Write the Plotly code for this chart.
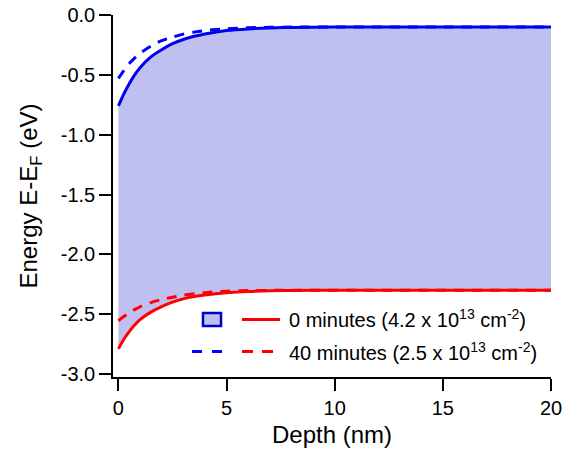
import plotly.graph_objects as go

# Depth below the surface (nm)
depth = [0, 0.25, 0.5, 0.75, 1, 1.5, 2, 2.5, 3, 3.5, 4, 5, 6, 7, 8, 10, 12, 15, 20]

# Conduction-band edge, E - E_F (eV)
cb_0min = [-0.76, -0.66, -0.575, -0.50, -0.44, -0.35, -0.29, -0.24, -0.205, -0.178,
           -0.158, -0.13, -0.116, -0.108, -0.104, -0.101, -0.10, -0.10, -0.10]
cb_40min = [-0.53, -0.465, -0.405, -0.36, -0.32, -0.26, -0.215, -0.185, -0.16, -0.143,
            -0.13, -0.115, -0.107, -0.103, -0.101, -0.10, -0.10, -0.10, -0.10]

# Valence-band edge, E - E_F (eV)
vb_0min = [-2.79, -2.71, -2.645, -2.59, -2.545, -2.483, -2.437, -2.40, -2.372, -2.353,
           -2.34, -2.322, -2.311, -2.305, -2.302, -2.30, -2.30, -2.30, -2.30]
vb_40min = [-2.555, -2.52, -2.49, -2.462, -2.438, -2.403, -2.378, -2.358, -2.342, -2.33,
            -2.32, -2.308, -2.303, -2.301, -2.30, -2.30, -2.30, -2.30, -2.30]

x_ticks = [0, 5, 10, 15, 20]
y_ticks = [0.0, -0.5, -1.0, -1.5, -2.0, -2.5, -3.0]
y_ticktext = ["0.0", "-0.5", "-1.0", "-1.5", "-2.0", "-2.5", "-3.0"]

legend_labels = ["0 minutes (4.2 x 10<sup>13</sup> cm<sup>-2</sup>)",
                 "40 minutes (2.5 x 10<sup>13</sup> cm<sup>-2</sup>)"]

BLUE = "rgb(0,0,235)"
RED = "rgb(255,0,0)"
GAP_FILL = "rgb(191,192,240)"
FONT = "Liberation Sans, Arial, sans-serif"

W, H = 580, 451
L, R, T, B = 113, 29, 15, 74
PW, PH = W - L - R, H - T - B


def px(x):
    return (x - L) / PW


def py(y):
    return (H - B - y) / PH


fig = go.Figure()

# shaded gap between the two band edges
fig.add_trace(go.Scatter(x=depth, y=cb_0min, mode="lines", line=dict(width=0, shape="spline", smoothing=0.8),
                         hoverinfo="skip", showlegend=False))
fig.add_trace(go.Scatter(x=depth, y=vb_0min, mode="lines", fill="tonexty", fillcolor=GAP_FILL,
                         line=dict(width=0, shape="spline", smoothing=0.8), hoverinfo="skip", showlegend=False))

fig.add_trace(go.Scatter(x=depth, y=cb_0min, mode="lines",
                         line=dict(color=BLUE, width=3, shape="spline", smoothing=0.8), showlegend=False))
fig.add_trace(go.Scatter(x=depth, y=vb_0min, mode="lines",
                         line=dict(color=RED, width=3, shape="spline", smoothing=0.8), showlegend=False))
fig.add_trace(go.Scatter(x=depth, y=cb_40min, mode="lines",
                         line=dict(color="rgb(0,0,255)", width=3, dash="10px,8px", shape="spline", smoothing=0.8),
                         showlegend=False))
fig.add_trace(go.Scatter(x=depth, y=vb_40min, mode="lines",
                         line=dict(color=RED, width=3, dash="10px,8px", shape="spline", smoothing=0.8),
                         showlegend=False))

# hand-drawn legend
shapes = [
    dict(type="rect", xref="paper", yref="paper", x0=px(203), x1=px(221), y0=py(326), y1=py(313),
         fillcolor=GAP_FILL, line=dict(color="rgb(0,0,200)", width=2.5)),
    dict(type="line", xref="paper", yref="paper", x0=px(242), x1=px(280), y0=py(319.5), y1=py(319.5),
         line=dict(color=RED, width=3)),
    dict(type="line", xref="paper", yref="paper", x0=px(192), x1=px(223), y0=py(351.5), y1=py(351.5),
         line=dict(color="rgb(0,0,255)", width=3, dash="10px,10px")),
    dict(type="line", xref="paper", yref="paper", x0=px(242), x1=px(273), y0=py(351.5), y1=py(351.5),
         line=dict(color=RED, width=3, dash="11px,9px")),
]
annotations = [
    dict(xref="paper", yref="paper", x=px(287), y=py(318), text=legend_labels[0], showarrow=False,
         xanchor="left", yanchor="middle", font=dict(family=FONT, size=20, color="black")),
    dict(xref="paper", yref="paper", x=px(287), y=py(351), text=legend_labels[1], showarrow=False,
         xanchor="left", yanchor="middle", font=dict(family=FONT, size=20, color="black")),
]

fig.update_layout(
    width=W, height=H,
    margin=dict(l=L, r=R, t=T, b=B, autoexpand=False),
    paper_bgcolor="white", plot_bgcolor="white",
    font=dict(family=FONT, color="black"),
    shapes=shapes, annotations=annotations,
    showlegend=False,
    xaxis=dict(range=[-0.25, 20], tickvals=x_ticks, ticks="outside", ticklen=12, tickwidth=1.5,
               tickcolor="black", showline=True, linecolor="black", linewidth=1.5,
               showgrid=False, zeroline=False, tickfont=dict(size=20), automargin=False,
               title=dict(text="Depth (nm)", font=dict(size=24), standoff=8)),
    yaxis=dict(range=[-3.025, 0.0], tickvals=y_ticks, ticktext=y_ticktext, ticks="outside", ticklen=12,
               tickwidth=1.5, tickcolor="black", showline=True, linecolor="black", linewidth=1.5,
               showgrid=False, zeroline=False, tickfont=dict(size=20), automargin=False,
               title=dict(text="Energy E-E<sub>F</sub> (eV)", font=dict(size=24), standoff=16)),
)

fig.write_html("out.html")
